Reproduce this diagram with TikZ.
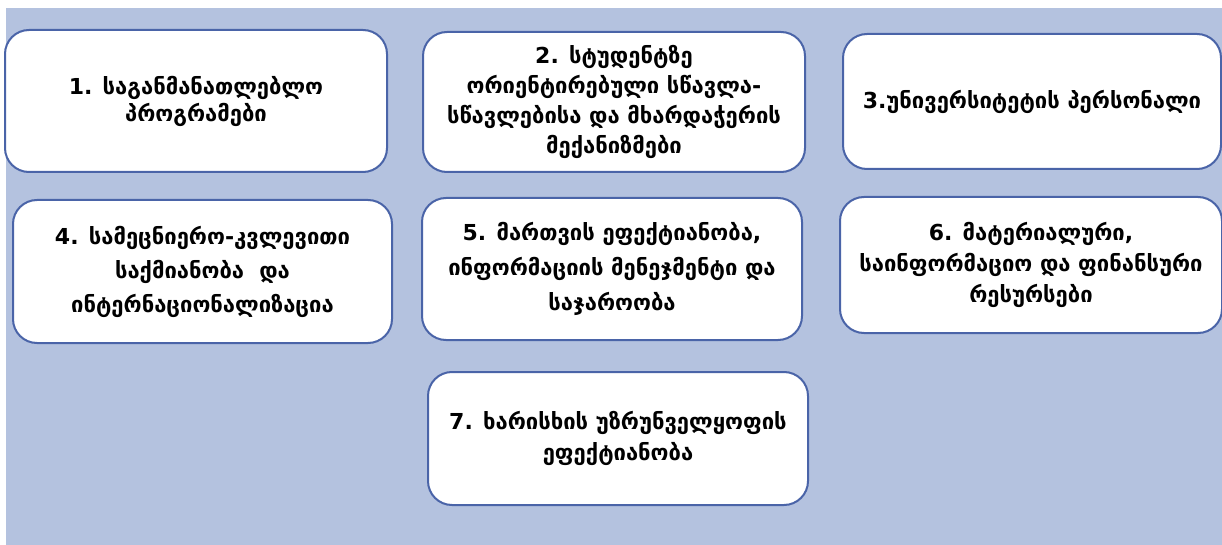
\documentclass[tikz,border=0pt]{standalone}
\usepackage{fontspec}
\newfontfamily\geo[Script=Georgian]{DejaVu Sans}
\definecolor{bgblue}{HTML}{B4C2DF}
\definecolor{edgeblue}{HTML}{4A64A8}
\newcommand{\geofs}[1]{\geo\bfseries\fontsize{22}{#1}\selectfont}
\begin{document}
\begin{tikzpicture}[x=1pt,y=-1pt,
  box/.style={draw=edgeblue,line width=2pt,fill=white,rounded corners=24pt,
    align=center,inner sep=0pt,font=\geofs{30}}]
\useasboundingbox (0,0) rectangle (1222,545);
\fill[bgblue] (6,8) rectangle (1222,545);
\node[box,font=\geofs{27},minimum width=382pt,minimum height=142pt] (b1) at (196,101) {1. საგანმანათლებლო\\პროგრამები};
\node[box,font=\geofs{30},minimum width=382pt,minimum height=140pt] (b2) at (614,102) {2. სტუდენტზე\\ორიენტირებული სწავლა-\\სწავლებისა და მხარდაჭერის\\მექანიზმები};
\node[box,minimum width=378pt,minimum height=135pt] (b3) at (1032,101.5) {3.უნივერსიტეტის პერსონალი};
\node[box,font=\geofs{34},minimum width=379pt,minimum height=143pt] (b4) at (202.5,271.5) {4. სამეცნიერო-კვლევითი\\საქმიანობა\ \ და\\ინტერნაციონალიზაცია};
\node[box,font=\geofs{35},minimum width=380pt,minimum height=142pt] (b5) at (612,269) {5. მართვის ეფექტიანობა,\\ინფორმაციის მენეჯმენტი და\\საჯაროობა};
\node[box,font=\geofs{31},minimum width=382pt,minimum height=136pt] (b6) at (1031,265) {6. მატერიალური,\\საინფორმაციო და ფინანსური\\რესურსები};
\node[box,font=\geofs{31},minimum width=380pt,minimum height=133pt] (b7) at (618,438.5) {7. ხარისხის უზრუნველყოფის\\ეფექტიანობა};
\end{tikzpicture}
\end{document}
